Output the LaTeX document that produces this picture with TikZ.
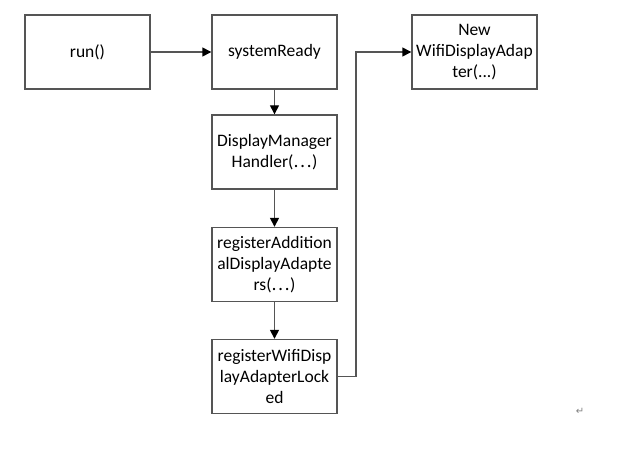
\documentclass[tikz,border=0pt]{standalone}
\usepackage{fontspec}
\setmainfont{Carlito}
\newfontfamily\cjk{Noto Sans CJK SC}
\newfontfamily\dejavu{DejaVu Sans}
\usetikzlibrary{arrows.meta}
\definecolor{edge}{HTML}{555555}
\newcommand{\dotsx}{{\cjk ⋯}}
\begin{document}
\begin{tikzpicture}[x=1pt,y=-1pt,
  box/.style={draw=edge,line width=1.4pt,minimum width=125pt,minimum height=74pt,inner sep=0pt,align=center,font=\fontsize{17.5}{21}\selectfont},
  conn/.style={draw=edge,line width=1.4pt,-{Triangle[length=9pt,width=9pt,fill=black,color=black]}}]
\useasboundingbox (0,0) rectangle (622,452);
\node[box] (run) at (87.5,52) {run()};
\node[box] (sys) at (274.5,52) {systemReady};
\node[box] (new) at (474.5,52) {New\\WifiDisplayAdap\\ter(...)};
\node[box] (dmh) at (274.5,152) {DisplayManager\\Handler(\dotsx)};
\node[box] (rada) at (274.5,264.5) {registerAddition\\alDisplayAdapte\\rs(\dotsx)};
\node[box] (rwda) at (274.5,376.5) {registerWifiDisp\\layAdapterLock\\ed};
\coordinate (c1) at (356,376.5);
\coordinate (c2) at (356,52);
\draw[conn] (run) -- (sys);
\draw[conn] (sys) -- (dmh);
\draw[conn] (dmh) -- (rada);
\draw[conn] (rada) -- (rwda);
\draw[conn] (rwda.east) -- (c1) -- (c2) -- (new.west);
\node[text=gray,font=\fontsize{10}{10}\selectfont\dejavu] (ret) at (580,411) {↵};
\end{tikzpicture}
\end{document}
